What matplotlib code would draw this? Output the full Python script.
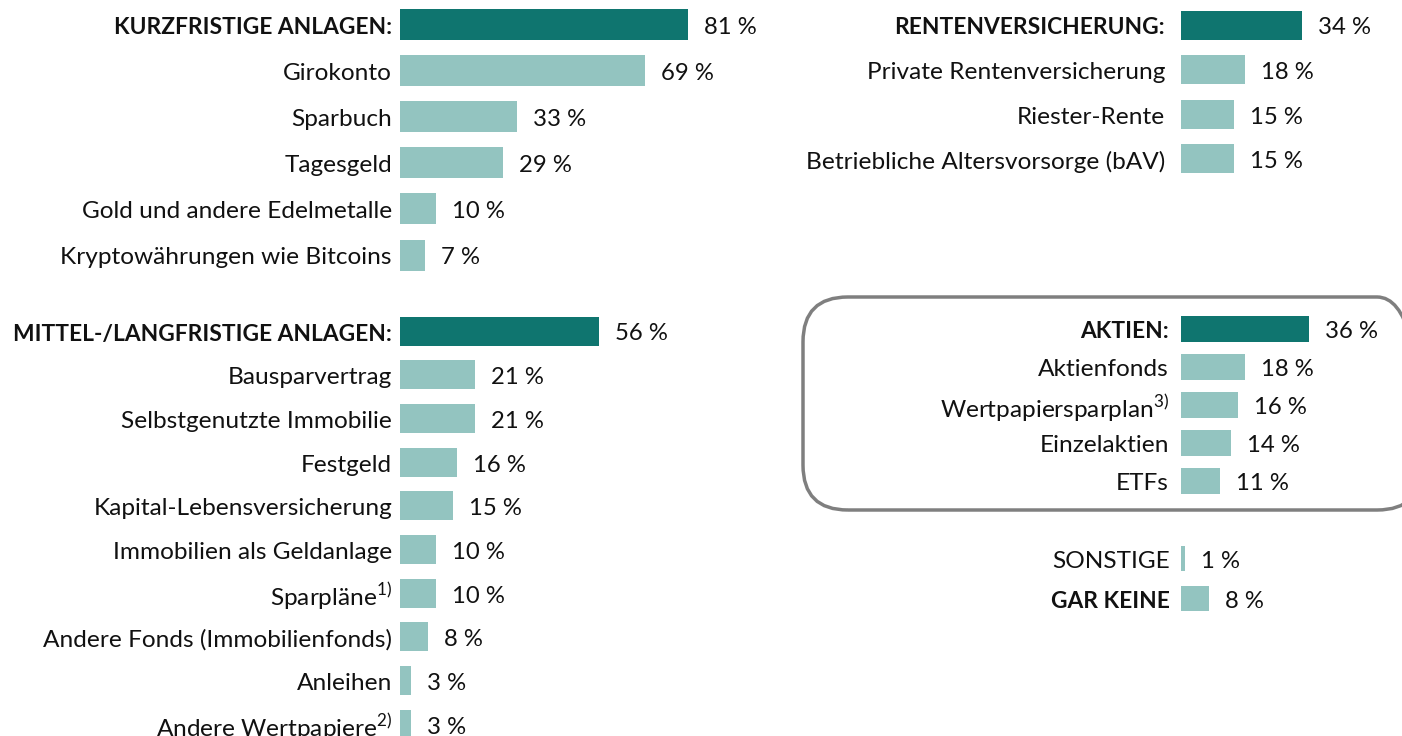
import matplotlib
matplotlib.use("Agg")
import matplotlib.pyplot as plt
from matplotlib.patches import FancyBboxPatch

plt.rcParams['font.family'] = ['Lato', 'DejaVu Sans']
plt.rcParams['mathtext.fontset'] = 'custom'
plt.rcParams['mathtext.rm'] = 'Lato'

# ---------------- data ----------------
kurz_labels = ["KURZFRISTIGE ANLAGEN:", "Girokonto", "Sparbuch", "Tagesgeld",
               "Gold und andere Edelmetalle", "Kryptowährungen wie Bitcoins"]
kurz_values = [81, 69, 33, 29, 10, 7]

mittel_labels = ["MITTEL-/LANGFRISTIGE ANLAGEN:", "Bausparvertrag", "Selbstgenutzte Immobilie",
                 "Festgeld", "Kapital-Lebensversicherung", "Immobilien als Geldanlage",
                 r"Sparpläne$^{\mathregular{1)}}$", "Andere Fonds (Immobilienfonds)", "Anleihen",
                 r"Andere Wertpapiere$^{\mathregular{2)}}$"]
mittel_values = [56, 21, 21, 16, 15, 10, 10, 8, 3, 3]

renten_labels = ["RENTENVERSICHERUNG:", "Private Rentenversicherung", "Riester-Rente",
                 "Betriebliche Altersvorsorge (bAV)"]
renten_values = [34, 18, 15, 15]

aktien_labels = ["AKTIEN:", "Aktienfonds", r"Wertpapiersparplan$^{\mathregular{3)}}$",
                 "Einzelaktien", "ETFs"]
aktien_values = [36, 18, 16, 14, 11]

sonst_labels = ["SONSTIGE", "GAR KEINE"]
sonst_values = [1, 8]

# ---------------- style ----------------
DARK = "#0f756f"
LIGHT = "#93c4c0"
W, H = 1402, 736
PX_PER_PCT = 3.55
FS = 17.6
FS_BOLD = 16.4
FS_VAL = 17.2
DY = -3  # text a little below the bar centre (pixels)

fig = plt.figure(figsize=(W / 100, H / 100), dpi=100)


def make_axes(x0_px):
    width_pct = (W - x0_px) / PX_PER_PCT
    ax = fig.add_axes([x0_px / W, 0, (W - x0_px) / W, 1])
    ax.set_xlim(0, width_pct)
    ax.set_ylim(H, 0)
    ax.axis("off")
    return ax


def draw_group(ax, labels, values, y0, step, bar_h, bold_first=True, bold_idx=None,
               lab_gap=8, val_gap=16, first_dark=True):
    ys = [y0 + i * step for i in range(len(values))]
    colors = [DARK if (first_dark and i == 0) else LIGHT for i in range(len(values))]
    ax.barh(ys, values, height=bar_h, color=colors, left=0)
    for i, (lab, v, y) in enumerate(zip(labels, values, ys)):
        bold = (bold_first and i == 0) or (bold_idx is not None and i == bold_idx)
        ax.annotate(lab, xy=(0, y), xytext=(-lab_gap, DY), textcoords="offset pixels",
                    ha="right", va="center", fontsize=FS_BOLD if bold else FS,
                    color="#111111", fontweight="bold" if bold else "normal")
        ax.annotate(f"{v} %", xy=(v, y), xytext=(val_gap, DY), textcoords="offset pixels",
                    ha="left", va="center", fontsize=FS_VAL, color="#111111")


axL = make_axes(400)
axR = make_axes(1181)

draw_group(axL, kurz_labels, kurz_values, 24, 46.2, 31)
draw_group(axL, mittel_labels, mittel_values, 331, 43.7, 29)
draw_group(axR, renten_labels, renten_values, 25, 44.5, 29, lab_gap=16)
draw_group(axR, aktien_labels, aktien_values, 329, 38.0, 26, lab_gap=12)
draw_group(axR, sonst_labels, sonst_values, 558, 40.0, 25, bold_first=False, bold_idx=1,
           lab_gap=11, val_gap=16, first_dark=False)

# rounded frame around AKTIEN
box = FancyBboxPatch((803 / W, 1 - 510 / H), (W + 20 - 803) / W, (510 - 297) / H,
                     boxstyle="round,pad=0,rounding_size=0.032",
                     transform=fig.transFigure, facecolor="none",
                     edgecolor="#7f7f7f", linewidth=2.5, mutation_aspect=W / H,
                     clip_on=False)
fig.patches.append(box)

fig.savefig("out.png", dpi=100)
